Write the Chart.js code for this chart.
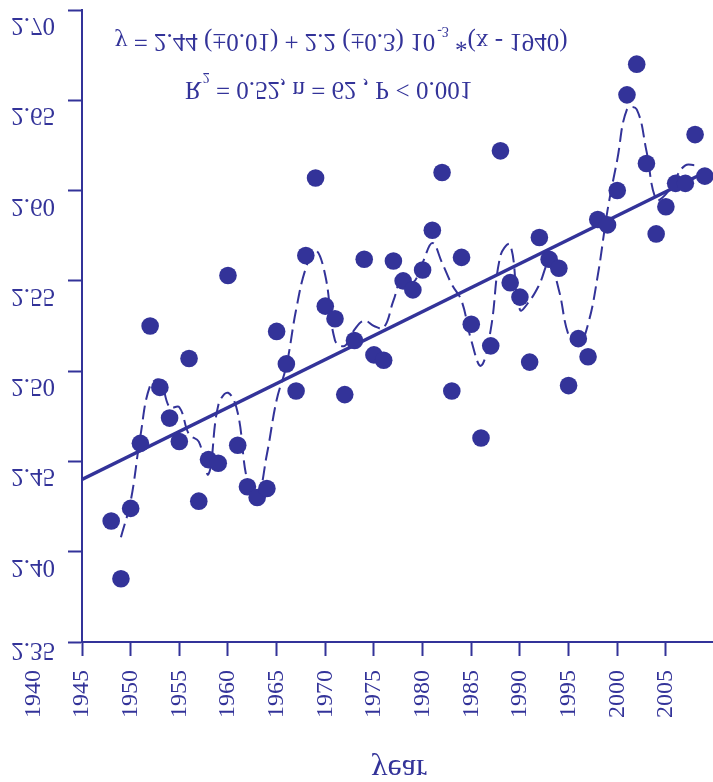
<!DOCTYPE html>
<html>
<head>
<meta charset="utf-8">
<script src="https://cdn.jsdelivr.net/npm/chart.js@4/dist/chart.umd.min.js"></script>
<style>
html,body{margin:0;padding:0;background:#fff;}
#wrap{width:713px;height:782px;}
</style>
</head>
<body>
<div id="wrap"><canvas id="c" width="713" height="782"></canvas></div>
<script>
// ---- data ----
const years = [1948,1949,1950,1951,1952,1953,1954,1955,1956,1957,1958,1959,
  1960,1961,1962,1963,1964,1965,1966,1967,1968,1969,
  1970,1971,1972,1973,1974,1975,1976,1977,1978,1979,
  1980,1981,1982,1983,1984,1985,1986,1987,1988,1989,
  1990,1991,1992,1993,1994,1995,1996,1997,1998,1999,
  2000,2001,2002,2003,2004,2005,2006,2007,2008,2009];
const values = [2.417,2.385,2.424,2.460,2.525,2.491,2.474,2.461,2.507,2.428,2.451,2.449,
  2.553,2.459,2.436,2.430,2.435,2.522,2.504,2.489,2.564,2.607,
  2.536,2.529,2.487,2.517,2.562,2.509,2.506,2.561,2.550,2.545,
  2.556,2.578,2.610,2.489,2.563,2.526,2.463,2.514,2.622,2.549,
  2.541,2.505,2.574,2.562,2.557,2.492,2.518,2.508,2.584,2.581,
  2.600,2.653,2.670,2.615,2.576,2.591,2.604,2.604,2.631,2.608];
const smoothYears = [1949,1950,1951,1952,1953,1954,1955,1956,1957,1958,1959,
  1960,1961,1962,1963,1964,1965,1966,1967,1968,1969,
  1970,1971,1972,1973,1974,1975,1976,1977,1978,1979,
  1980,1981,1982,1983,1984,1985,1986,1987,1988,1989,
  1990,1991,1992,1993,1994,1995,1996,1997,1998,1999,
  2000,2001,2002,2003,2004,2005,2006,2007,2008];
const smoothValues = [2.408,2.428,2.464,2.492,2.495,2.480,2.480,2.465,2.461,2.443,2.481,
  2.488,2.477,2.439,2.430,2.454,2.484,2.503,2.534,2.557,2.567,
  2.553,2.517,2.514,2.523,2.528,2.525,2.524,2.539,2.553,2.549,
  2.560,2.571,2.560,2.548,2.539,2.517,2.503,2.523,2.564,2.570,
  2.534,2.539,2.548,2.560,2.545,2.520,2.514,2.526,2.553,2.589,
  2.617,2.645,2.645,2.622,2.595,2.598,2.607,2.614,2.614];
const trendYears = [1945, 2009];
const trendValues = [2.440, 2.610];
const xTicks = [1945,1950,1955,1960,1965,1970,1975,1980,1985,1990,1995,2000,2005];
const xLabelValues = [1940,1945,1950,1955,1960,1965,1970,1975,1980,1985,1990,1995,2000,2005];
const yTicks = [2.35,2.40,2.45,2.50,2.55,2.60,2.65,2.70];
const yTickLabels = ['2.35','2.40','2.45','2.50','2.55','2.60','2.65','2.70'];
const xTitle = 'year';
const eqMain = 'y = 2.44 (\u00b10.01) + 2.2 (\u00b10.3) 10';
const eqSup = '-3';
const eqTail = ' *(x - 1940)';
const statMain = 'R';
const statSup = '2';
const statTail = ' = 0.52, n = 62 , P < 0.001';

const COLOR = '#333399';
const FONT = '"Liberation Serif", "Times New Roman", serif';

function pts(xs, ys){ return xs.map((x,i)=>({x:x, y:ys[i]})); }

function flipText(ctx, text, x, y, align){
  ctx.save();
  ctx.translate(x, y);
  ctx.scale(1, -1);
  ctx.textAlign = align || 'left';
  ctx.textBaseline = 'alphabetic';
  ctx.fillText(text, 0, 0);
  ctx.restore();
}

const labelPlugin = {
  id: 'labels',
  afterDraw(chart){
    const ctx = chart.ctx;
    const xs = chart.scales.x, ys = chart.scales.y;
    const area = chart.chartArea;
    ctx.save();
    ctx.fillStyle = COLOR;
    // y tick labels (glyphs flipped as in the reference)
    ctx.font = '25px ' + FONT;
    yTicks.forEach((v,i)=>{
      const py = ys.getPixelForValue(v);
      flipText(ctx, yTickLabels[i], 55, Math.min(py + 8, area.bottom + 1), 'right');
    });
    // x tick labels, rotated
    ctx.font = '24px ' + FONT;
    xLabelValues.forEach(v=>{
      const px = xs.getPixelForValue(v);
      ctx.save();
      ctx.translate(px, area.bottom + 28);
      ctx.rotate(-Math.PI/2);
      ctx.textAlign = 'right';
      ctx.textBaseline = 'middle';
      ctx.fillText(String(v), 0, 0);
      ctx.restore();
    });
    // axis title
    ctx.font = '32px ' + FONT;
    flipText(ctx, xTitle, 399, 760, 'center');
    // equation
    let x = 115;
    ctx.font = '25px ' + FONT;
    flipText(ctx, eqMain, x, 34, 'left');
    x += ctx.measureText(eqMain).width + 2;
    ctx.font = '14px ' + FONT;
    flipText(ctx, eqSup, x, 27, 'left');
    x += ctx.measureText(eqSup).width;
    ctx.font = '25px ' + FONT;
    flipText(ctx, eqTail, x, 34, 'left');
    // statistics
    x = 185;
    flipText(ctx, statMain, x, 82, 'left');
    x += ctx.measureText(statMain).width + 1;
    ctx.font = '14px ' + FONT;
    flipText(ctx, statSup, x, 73, 'left');
    x += ctx.measureText(statSup).width;
    ctx.font = '25px ' + FONT;
    flipText(ctx, statTail, x, 82, 'left');
    ctx.restore();
  }
};

new Chart(document.getElementById('c'), {
  type: 'scatter',
  data: {
    datasets: [
      {
        data: pts(smoothYears, smoothValues),
        showLine: true,
        tension: 0.4,
        borderColor: COLOR,
        borderWidth: 2,
        borderDash: [14, 6],
        pointRadius: 0,
        fill: false,
        order: 3
      },
      {
        data: pts(trendYears, trendValues),
        showLine: true,
        tension: 0,
        borderColor: COLOR,
        borderWidth: 3.5,
        pointRadius: 0,
        fill: false,
        order: 2
      },
      {
        data: pts(years, values),
        showLine: false,
        pointRadius: 8.8,
        pointBackgroundColor: COLOR,
        pointBorderWidth: 0,
        pointBorderColor: COLOR,
        order: 1
      }
    ]
  },
  options: {
    responsive: false,
    animation: false,
    devicePixelRatio: 1,
    layout: { autoPadding: false, padding: { left: 68, right: 0, top: 10, bottom: 126 } },
    plugins: { legend: { display: false }, tooltip: { enabled: false } },
    scales: {
      x: {
        type: 'linear',
        min: 1945,
        max: 2009.84,
        afterBuildTicks: (s) => { s.ticks = xTicks.map(v => ({ value: v })); },
        ticks: { display: false },
        grid: { drawOnChartArea: false, drawTicks: true, tickLength: 14, tickWidth: 2, tickColor: COLOR },
        border: { display: true, color: COLOR, width: 2 }
      },
      y: {
        type: 'linear',
        min: 2.35,
        max: 2.70,
        afterBuildTicks: (s) => { s.ticks = yTicks.map(v => ({ value: v })); },
        ticks: { display: false },
        grid: { drawOnChartArea: false, drawTicks: true, tickLength: 14, tickWidth: 2, tickColor: COLOR },
        border: { display: true, color: COLOR, width: 2 }
      }
    }
  },
  plugins: [labelPlugin]
});
</script>
</body>
</html>
